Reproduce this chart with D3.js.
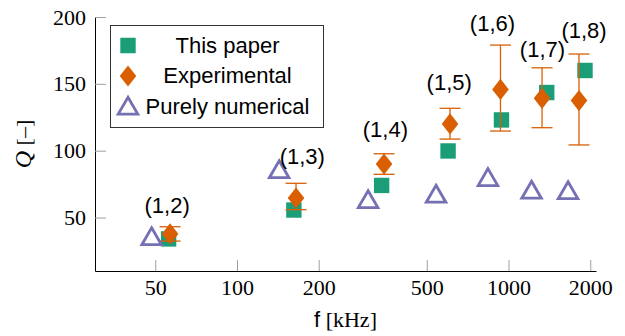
<!DOCTYPE html>
<head>
  <meta charset="utf-8">
  <script src="https://d3js.org/d3.v7.min.js"></script>
<style>
body { margin:0; background:#fff; }
svg { display:block; }
.axis path { stroke: #000; stroke-width: 1px; }
.axis line { stroke: #a0a0a0; stroke-width: 1px; }
.axis text { font-family: "Liberation Serif", serif; font-size: 22px; fill: #000; }
.lbl { font-family: "Liberation Sans", sans-serif; font-size: 22px; fill: #000; }
.serif { font-family: "Liberation Serif", serif; font-size: 22px; fill: #000; }
</style>
</head>

<body>
<script>
// modes (1,n)
var modes = ['(1,2)', '(1,3)', '(1,4)', '(1,5)', '(1,6)', '(1,7)', '(1,8)'];

// "This paper"
var paperF = [56, 162, 341, 599, 942, 1383, 1913];
var paperQ = [34, 55.6, 74, 99.8, 123, 143.5, 160];

// "Experimental" with error bars
var expF  = [56.7, 165, 348, 609, 934, 1329, 1818];
var expQ  = [37.7, 64.6, 90, 120, 145.8, 139.2, 137.5];
var expLo = [32.4, 55.9, 82.3, 108.7, 114.7, 117.2, 104.3];
var expHi = [43.1, 75.6, 97.7, 131.7, 179, 162, 172.3];

// "Purely numerical"
var numF = [48.5, 143, 304, 541, 840, 1216, 1657];
var numQ = [33.9, 84, 61.6, 65.7, 78.1, 68.7, 68.3];

// where the mode labels sit (axis coordinates, text baseline)
var labelF = [55.3, 174, 352, 605, 873, 1334, 1898];
var labelQ = [53.2, 90.1, 110.3, 145.1, 189.9, 170.1, 184.3];

var xTicks = [50, 100, 200, 500, 1000, 2000];
var yTicks = [50, 100, 150, 200];
var legendNames = ['This paper', 'Experimental', 'Purely numerical'];

var green = '#1b9e77', orange = '#d95f02', purple = '#7570b3';

var W = 625, H = 336;
var m = {left: 95, right: 596, top: 17, bottom: 271};

var x = d3.scaleLog().domain([30, 2100]).range([m.left, m.right]);
var y = d3.scaleLinear().domain([10, 200]).range([m.bottom, m.top]);

var svg = d3.select("body").append("svg")
    .attr("width", W)
    .attr("height", H);

// axes (ticks point inwards)
svg.append("g")
    .attr("class", "axis")
    .attr("transform", "translate(0," + m.bottom + ")")
    .call(d3.axisBottom(x).tickValues(xTicks).tickFormat(d3.format("d"))
      .tickSizeInner(-11).tickSizeOuter(0).tickPadding(8.5));

svg.append("g")
    .attr("class", "axis")
    .attr("transform", "translate(" + m.left + ",0)")
    .call(d3.axisLeft(y).tickValues(yTicks)
      .tickSizeInner(-11).tickSizeOuter(0).tickPadding(9));

svg.selectAll(".axis .domain").attr("stroke", "#000");

// axis labels
var xl = svg.append("text")
    .attr("x", (m.left + m.right) / 2)
    .attr("y", 327)
    .attr("text-anchor", "middle");
xl.append("tspan").attr("class", "lbl").text("f");
xl.append("tspan").attr("class", "serif").text(" [kHz]");

var yl = svg.append("text")
    .attr("transform", "translate(31," + (m.top + m.bottom) / 2 + ") rotate(-90)")
    .attr("text-anchor", "middle");
yl.append("tspan").attr("class", "serif").style("font-style", "italic").style("font-size", "24px").text("Q");
yl.append("tspan").attr("class", "serif").text(" [–]");

// marker shapes
function squarePath(cx, cy) {
  var s = 7.7;
  return "M" + (cx - s) + "," + (cy - s) + "h" + 2 * s + "v" + 2 * s + "h" + (-2 * s) + "Z";
}
function diamondPath(cx, cy) {
  var a = 8.3, b = 10.6;
  return "M" + cx + "," + (cy - b) + "L" + (cx + a) + "," + cy + "L" + cx + "," + (cy + b) + "L" + (cx - a) + "," + cy + "Z";
}
function trianglePath(cx, cy) {
  var r = 11.3;
  return "M" + cx + "," + (cy - r) +
         "L" + (cx + r * Math.sqrt(3) / 2) + "," + (cy + r / 2) +
         "L" + (cx - r * Math.sqrt(3) / 2) + "," + (cy + r / 2) + "Z";
}

// This paper
svg.append("g").selectAll("path")
    .data(paperF)
  .enter().append("path")
    .attr("d", (d, i) => squarePath(x(d), y(paperQ[i])))
    .attr("fill", green);

// error bars
var eb = svg.append("g")
    .attr("stroke", orange)
    .attr("stroke-width", 1.3)
  .selectAll("g")
    .data(expF)
  .enter().append("g");
eb.append("line")
    .attr("x1", d => x(d)).attr("x2", d => x(d))
    .attr("y1", (d, i) => y(expLo[i])).attr("y2", (d, i) => y(expHi[i]));
eb.append("line")
    .attr("x1", d => x(d) - 10.5).attr("x2", d => x(d) + 10.5)
    .attr("y1", (d, i) => y(expLo[i])).attr("y2", (d, i) => y(expLo[i]));
eb.append("line")
    .attr("x1", d => x(d) - 10.5).attr("x2", d => x(d) + 10.5)
    .attr("y1", (d, i) => y(expHi[i])).attr("y2", (d, i) => y(expHi[i]));

// Experimental
svg.append("g").selectAll("path")
    .data(expF)
  .enter().append("path")
    .attr("d", (d, i) => diamondPath(x(d), y(expQ[i])))
    .attr("fill", orange);

// Purely numerical
svg.append("g").selectAll("path")
    .data(numF)
  .enter().append("path")
    .attr("d", (d, i) => trianglePath(x(d), y(numQ[i])))
    .attr("fill", "none")
    .attr("stroke", purple)
    .attr("stroke-width", 2.8);

// mode labels
svg.append("g").selectAll("text")
    .data(modes)
  .enter().append("text")
    .attr("class", "lbl")
    .attr("x", (d, i) => x(labelF[i]))
    .attr("y", (d, i) => y(labelQ[i]))
    .attr("text-anchor", "middle")
    .text(d => d);

// legend
var lg = svg.append("g");
lg.append("rect")
    .attr("x", 110.5).attr("y", 25.5)
    .attr("width", 213).attr("height", 102)
    .attr("fill", "#fff")
    .attr("stroke", "#333")
    .attr("stroke-width", 1);

var rowY = [45.5, 76, 106.5];
lg.append("path").attr("d", squarePath(128, rowY[0])).attr("fill", green);
lg.append("path").attr("d", diamondPath(128, rowY[1])).attr("fill", orange);
lg.append("path").attr("d", trianglePath(128, rowY[2] + 2))
    .attr("fill", "none").attr("stroke", purple).attr("stroke-width", 2.8);

lg.selectAll("text.leg")
    .data(legendNames)
  .enter().append("text")
    .attr("class", "lbl leg")
    .attr("x", 227.5)
    .attr("y", (d, i) => rowY[i] + 7)
    .attr("text-anchor", "middle")
    .text(d => d);
</script>
</body>
